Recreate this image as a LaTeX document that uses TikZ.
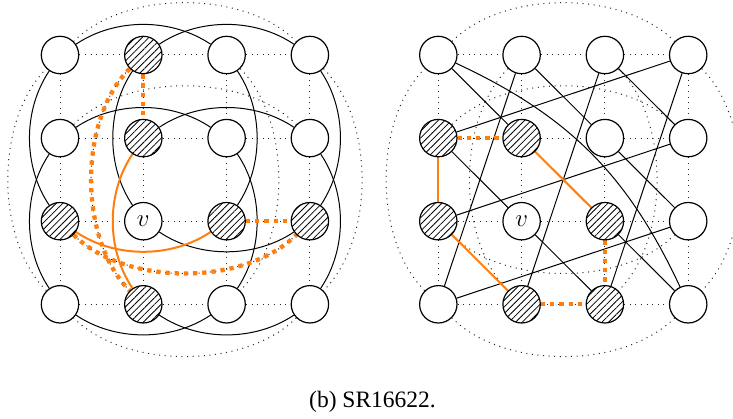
\documentclass[tikz,border=0pt]{standalone}
\usepackage{fontspec}
\setmainfont{Liberation Serif}
\usetikzlibrary{patterns.meta}
\definecolor{hlorange}{RGB}{255,127,14}
\newcommand{\vertexfont}{\fontsize{30}{34}\selectfont}
\newcommand{\captionfont}{\fontsize{23.5}{28}\selectfont}
\pgfdeclarelayer{paper}
\pgfdeclarelayer{background}
\pgfsetlayers{paper,background,main}
\tikzset{
  vtx/.style={circle, draw, line width=1.2pt, fill=white, minimum size=37.4pt, inner sep=0pt},
  hat/.style={vtx, postaction={pattern={Lines[angle=45,distance=4.7pt,line width=0.8pt]}}},
  torus/.style={line width=1pt, dash pattern=on 1pt off 4.6pt, black!85},
  gedge/.style={line width=1pt},
  hl/.style={line width=2pt, draw=hlorange},
  hldot/.style={line width=4.3pt, draw=hlorange, dash pattern=on 4.3pt off 4.9pt},
  % arc between vertices two apart in a row or column
  skipL/.style={bend left=34, looseness=0.9},
  skipR/.style={bend right=34, looseness=0.9},
  % wrap-around arc of the torus
  wrapL/.style={bend left=45, looseness=0.84},
  wrapR/.style={bend right=45, looseness=0.84},
}
\begin{document}
\begin{tikzpicture}[x=1pt, y=-1pt]
\useasboundingbox (0,0) rectangle (733,419);
\begin{pgfonlayer}{paper}
  \fill[white] (0,0) rectangle (733,419);
\end{pgfonlayer}

% ---------- left: rook's graph on the 4x4 torus ----------
\foreach \i/\j/\s in {0/0/vtx,1/0/hat,2/0/vtx,3/0/vtx,
                      0/1/vtx,1/1/hat,2/1/vtx,3/1/vtx,
                      0/2/hat,2/2/hat,3/2/hat,
                      0/3/vtx,1/3/hat,2/3/vtx,3/3/vtx}
  \node[\s] (L\i\j) at ({60+83.3*\i},{55+83.1*\j}) {};
\node[vtx, font=\vertexfont] (L12) at ({60+83.3},{55+83.1*2}) {$v$};

% ---------- right: Shrikhande graph on the 4x4 torus ----------
\foreach \i/\j/\s in {0/0/vtx,1/0/vtx,2/0/vtx,3/0/vtx,
                      0/1/hat,1/1/hat,2/1/vtx,3/1/vtx,
                      0/2/hat,2/2/hat,3/2/vtx,
                      0/3/vtx,1/3/hat,2/3/hat,3/3/vtx}
  \node[\s] (R\i\j) at ({438.3+83.3*\i},{55+83.1*\j}) {};
\node[vtx, font=\vertexfont] (R12) at ({438.3+83.3},{55+83.1*2}) {$v$};

\begin{pgfonlayer}{background}
  % torus grid edges (both drawings)
  \foreach \g in {L,R} {
    \foreach \i [evaluate=\i as \k using int(\i+1)] in {0,1,2} {
      \foreach \j in {0,...,3} {
        \draw[torus] (\g\i\j) -- (\g\k\j);
        \draw[torus] (\g\j\i) -- (\g\j\k);
      }
    }
    % wrap-around edges of the outer rows and columns
    \draw[torus] (\g00) to[wrapL] (\g30);
    \draw[torus] (\g30) to[wrapL] (\g33);
    \draw[torus] (\g33) to[wrapL] (\g03);
    \draw[torus] (\g03) to[wrapL] (\g00);
    % wrap-around edges of the inner rows and columns
    \draw[torus] (\g01) to[wrapL] (\g31);
    \draw[torus] (\g02) to[wrapR] (\g32);
    \draw[torus] (\g10) to[wrapR] (\g13);
    \draw[torus] (\g20) to[wrapL] (\g23);
  }

  % left: distance-two edges within rows and columns
  \draw[gedge] (L00) to[skipL] (L20);
  \draw[gedge] (L10) to[skipL] (L30);
  \draw[gedge] (L01) to[skipL] (L21);
  \draw[gedge] (L11) to[skipL] (L31);
  \draw[gedge] (L12) to[skipR] (L32);
  \draw[gedge] (L03) to[skipR] (L23);
  \draw[gedge] (L13) to[skipR] (L33);
  \draw[gedge] (L00) to[skipR] (L02);
  \draw[gedge] (L01) to[skipR] (L03);
  \draw[gedge] (L10) to[skipR] (L12);
  \draw[gedge] (L20) to[skipL] (L22);
  \draw[gedge] (L21) to[skipL] (L23);
  \draw[gedge] (L30) to[skipL] (L32);
  \draw[gedge] (L31) to[skipL] (L33);

  % left: highlighted edges
  \draw[hldot] (L10) -- (L11);
  \draw[hldot] (L22) -- (L32);
  \draw[hldot] (L10) to[wrapR] (L13);
  \draw[hldot] (L02) to[wrapR] (L32);
  \draw[hl] (L11) to[skipR] (L13);
  \draw[hl] (L02) to[skipR] (L22);

  % right: diagonal edges
  \draw[gedge] (R00) -- (R11);
  \draw[gedge] (R10) -- (R21);
  \draw[gedge] (R20) -- (R31);
  \draw[gedge] (R01) -- (R12);
  \draw[gedge] (R21) -- (R32);
  \draw[gedge] (R12) -- (R23);
  \draw[gedge] (R22) -- (R33);
  \draw[gedge] (R30) -- (R01);
  \draw[gedge] (R31) -- (R02);
  \draw[gedge] (R32) -- (R03);
  \draw[gedge] (R03) -- (R10);
  \draw[gedge] (R13) -- (R20);
  \draw[gedge] (R23) -- (R30);
  \draw[gedge] (R00) to[bend left=20] (R33);

  % right: highlighted edges
  \draw[hldot] (R01) -- (R11);
  \draw[hldot] (R22) -- (R23);
  \draw[hldot] (R13) -- (R23);
  \draw[hl] (R01) -- (R02);
  \draw[hl] (R11) -- (R22);
  \draw[hl] (R02) -- (R13);
\end{pgfonlayer}

\node[font=\captionfont, anchor=base] (cap) at (372.5,407) {(b) SR16622.};
\end{tikzpicture}
\end{document}
